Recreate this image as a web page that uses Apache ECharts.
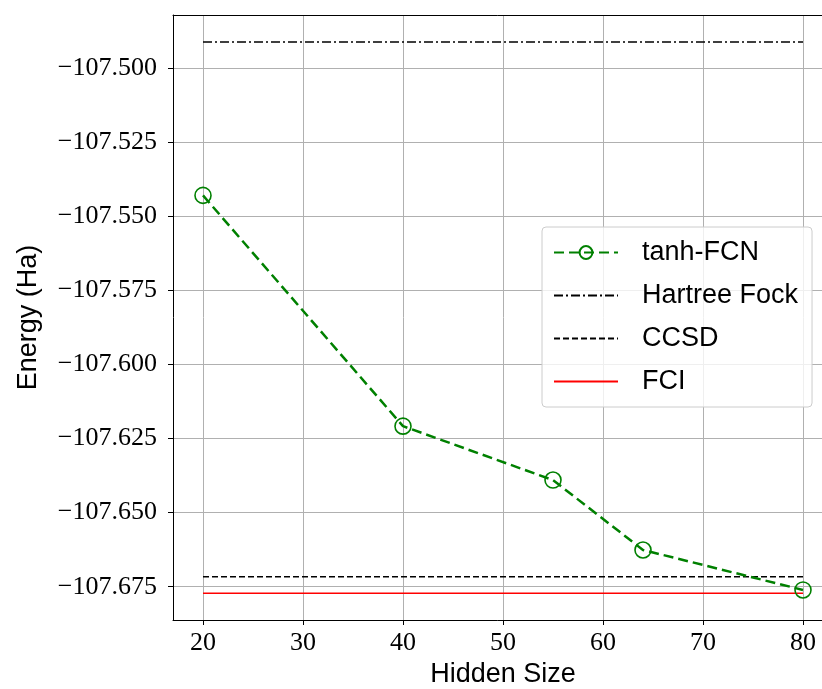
<!DOCTYPE html>
<html>
<head>
<meta charset="utf-8">
<script src="https://cdn.jsdelivr.net/npm/echarts@6/dist/echarts.min.js"></script>
<style>
  html, body { margin: 0; padding: 0; background: #fff; }
  #chart { width: 822px; height: 689px; }
</style>
</head>
<body>
<div id="chart"></div>
<script>
// hidden size vs energy
const hiddenSizes = [20, 40, 55, 64, 80]
const fcnEnergy = [-107.5429, -107.6208, -107.6390, -107.6626, -107.6761]

// reference energies (flat lines over 20..80)
const refRange = [20, 80]
const hartreeFock = -107.4911
const ccsd = -107.6716
const fci = -107.6772

const xTicks = [20, 30, 40, 50, 60, 70, 80]
const yTicks = [-107.5, -107.525, -107.55, -107.575, -107.6, -107.625, -107.65, -107.675]

const serif = 'Liberation Serif'
const sans = 'Liberation Sans'

function flat (v) {
  return refRange.map(x => [x, v])
}

const chart = echarts.init(document.getElementById('chart'))

chart.setOption({
  animation: false,
  grid: {
    left: 173,
    top: 15,
    right: -11,
    bottom: 69,
    outerBoundsMode: 'none',
    containLabel: false,
    show: false
  },
  legend: {
    orient: 'vertical',
    left: 542,
    top: 227,
    padding: [12, 14, 12, 11],
    itemGap: 16,
    itemWidth: 64,
    itemHeight: 16,
    backgroundColor: 'rgba(255,255,255,0.8)',
    borderColor: '#cccccc',
    borderWidth: 1,
    borderRadius: 4,
    textStyle: {
      fontFamily: sans,
      fontSize: 27,
      color: '#000',
      padding: [0, 0, 0, 19]
    },
    data: ['tanh-FCN', 'Hartree Fock', 'CCSD', 'FCI']
  },
  xAxis: [{
    type: 'value',
    min: 17,
    max: 83,
    name: 'Hidden Size',
    nameLocation: 'middle',
    nameGap: 32,
    nameTextStyle: { fontFamily: sans, fontSize: 27, color: '#000' },
    axisLine: { show: true, lineStyle: { color: '#000', width: 1 } },
    axisTick: { show: true, inside: false, length: 5, customValues: xTicks, lineStyle: { color: '#000' } },
    axisLabel: { customValues: xTicks, fontFamily: serif, fontSize: 26, color: '#000', margin: 10 },
    splitLine: { show: true, lineStyle: { color: '#b0b0b0', width: 1 } }
  }, {
    // top spine only
    type: 'value',
    position: 'top',
    min: 17,
    max: 83,
    axisLine: { show: true, lineStyle: { color: '#000', width: 1 } },
    axisTick: { show: false },
    axisLabel: { show: false },
    splitLine: { show: false }
  }],
  yAxis: {
    type: 'value',
    min: -107.68624,
    max: -107.482,
    name: 'Energy (Ha)',
    nameLocation: 'middle',
    nameGap: 131,
    nameTextStyle: { fontFamily: sans, fontSize: 27, color: '#000' },
    axisLine: { show: true, lineStyle: { color: '#000', width: 1 } },
    axisTick: { show: true, inside: false, length: 5, customValues: yTicks, lineStyle: { color: '#000' } },
    axisLabel: {
      customValues: yTicks,
      fontFamily: serif,
      fontSize: 26,
      color: '#000',
      margin: 16,
      formatter: v => '\u2212' + Math.abs(v).toFixed(3)
    },
    splitLine: { show: true, lineStyle: { color: '#b0b0b0', width: 1 } }
  },
  series: [
    {
      name: 'tanh-FCN',
      type: 'line',
      z: 5,
      data: hiddenSizes.map((x, i) => [x, fcnEnergy[i]]),
      symbol: 'circle',
      symbolSize: 16,
      itemStyle: { color: 'rgba(0,0,0,0)', borderColor: '#008000', borderWidth: 1.6 },
      lineStyle: { color: '#008000', width: 2.5, type: [10, 5] }
    },
    {
      name: 'Hartree Fock',
      type: 'line',
      data: flat(hartreeFock),
      symbol: 'none',
      itemStyle: { color: 'rgba(0,0,0,0)' },
      lineStyle: { color: '#000', width: 1.5, type: [9, 3, 2, 3] }
    },
    {
      name: 'CCSD',
      type: 'line',
      data: flat(ccsd),
      symbol: 'none',
      itemStyle: { color: 'rgba(0,0,0,0)' },
      lineStyle: { color: '#000', width: 1.5, type: [6, 3] }
    },
    {
      name: 'FCI',
      type: 'line',
      data: flat(fci),
      symbol: 'none',
      itemStyle: { color: 'rgba(0,0,0,0)' },
      lineStyle: { color: '#ff0000', width: 1.5 }
    }
  ]
})
</script>
</body>
</html>
